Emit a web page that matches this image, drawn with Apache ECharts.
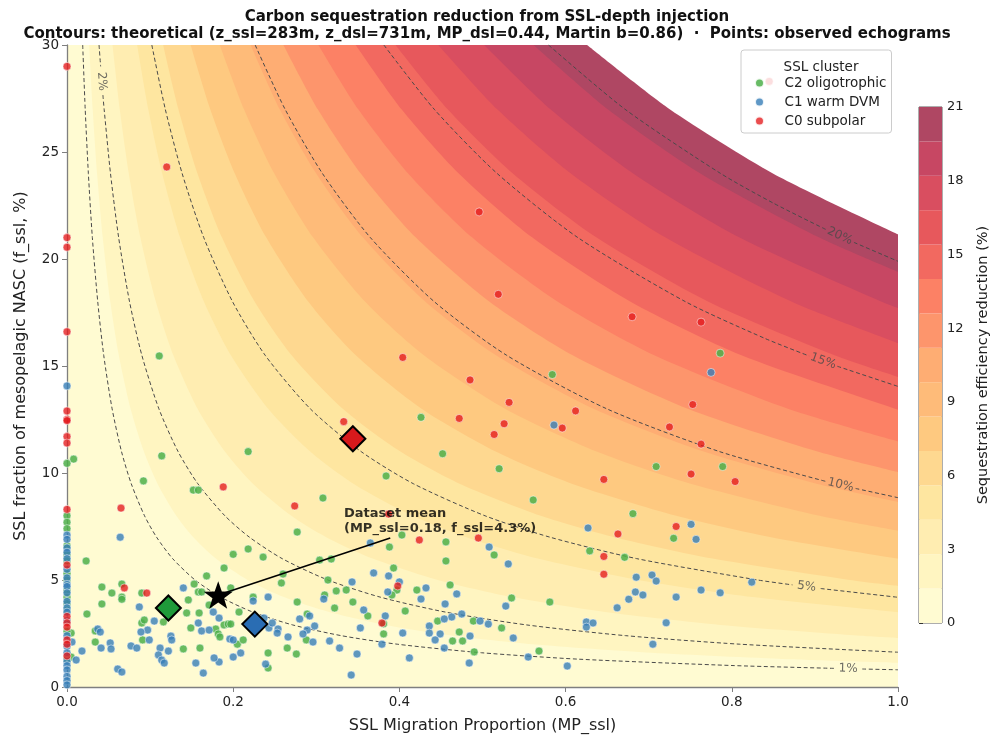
<!DOCTYPE html>
<html><head><meta charset="utf-8">
<script src="https://cdn.jsdelivr.net/npm/echarts@6.0.0/dist/echarts.min.js"></script>
<style>html,body{margin:0;padding:0;background:#fff}#c{width:992px;height:740px}</style>
</head><body><div id="c"></div><script>
// ---- filled-contour band boundaries: x positions at common y values ----
const BAND_Y = [30, 27, 24, 21, 18, 15.5, 13, 11, 9.5, 8, 7, 6, 5, 4.2, 3.5, 2.9, 2.4, 2.0, 1.6, 1.3, 1.0];
const BAND_LEVELS = [1.4, 2.8, 4.2, 5.6, 7.0, 8.4, 9.8, 11.2, 12.6, 14.0, 15.4, 16.8, 18.2, 19.6, 21.0];
const BAND_X = [
  [0.02669,0.03093,0.03622,0.04303,0.05211,0.06236,0.07655,0.09255,0.10897,0.13155,0.15198,0.17921,0.21734,0.26092,0.31539,0.38301,0.46519,0.56051,0.70350,0.86848],
  [0.05479,0.06349,0.07436,0.08834,0.10698,0.12802,0.15715,0.19000,0.22371,0.27005,0.31199,0.36790,0.44618,0.53564,0.64746,0.78628,0.95498],
  [0.08442,0.09782,0.11457,0.13610,0.16482,0.19723,0.24212,0.29272,0.34465,0.41606,0.48066,0.56681,0.68740,0.82523,0.99751],
  [0.11570,0.13406,0.15702,0.18653,0.22589,0.27032,0.33184,0.40119,0.47236,0.57023,0.65877,0.77683,0.94212],
  [0.14877,0.17239,0.20191,0.23985,0.29046,0.34759,0.42669,0.51587,0.60739,0.73323,0.84708,0.99889],
  [0.18380,0.21297,0.24944,0.29633,0.35885,0.42943,0.52716,0.63733,0.75040,0.90587],
  [0.22096,0.25603,0.29988,0.35624,0.43140,0.51625,0.63374,0.76618,0.90211],
  [0.26045,0.30179,0.35348,0.41992,0.50851,0.60852,0.74701,0.90313],
  [0.30251,0.35053,0.41055,0.48772,0.59062,0.70678,0.86764],
  [0.34738,0.40252,0.47145,0.56007,0.67823,0.81162,0.99634],
  [0.39536,0.45812,0.53657,0.63742,0.77191,0.92373],
  [0.44679,0.51771,0.60636,0.72034,0.87232],
  [0.50205,0.58174,0.68136,0.80943,0.98021],
  [0.56159,0.65073,0.76217,0.90542],
  [0.62592,0.72527,0.84946]
];
const BAND_END_Y = [1.1310, 2.2944, 3.4916, 4.7243, 5.9937, 7.3019, 8.6505, 10.0414, 11.4768, 12.9586, 14.4891, 16.0709, 17.7066, 19.3992, 21.1512];
const BAND_COLORS = ['#fffbd2','#fff5c1','#ffedb1','#fee6a0','#fed890','#fec980','#febb79','#fead73','#fd956c','#fc8165','#f26960','#e7585c','#d94e60','#c74763','#af4763'];

// ---- dashed theoretical contours (null = gap for the inline label) ----
const CONTOUR_1 = [[0.0189,30],[0.0219,27],[0.0257,24],[0.0305,21],[0.0370,18],[0.0442,15.5],[0.0543,13],[0.0656,11],[0.0773,9.5],[0.0933,8],[0.1078,7],[0.1271,6],[0.1541,5],[0.1850,4.2],[0.2236,3.5],[0.2716,2.9],[0.3299,2.4],[0.3974,2.0],[0.4988,1.6],[0.6158,1.3],[0.8030,1.0],[0.923,0.8711],null,[0.957,0.8404],[1,0.8046]];
const CONTOUR_2 = [[0.03856,30],[0.04046,29.0],null,[0.04322,27.66],[0.04468,27],[0.05233,24],[0.06216,21],[0.07528,18],[0.09008,15.5],[0.11058,13],[0.13369,11],[0.15741,9.5],[0.19003,8],[0.21953,7],[0.25888,6],[0.31396,5],[0.37690,4.2],[0.45559,3.5],[0.55327,2.9],[0.67198,2.4],[0.80968,2.0],[1,1.6255]];
const CONTOUR_5 = [[0.10208,30],[0.11828,27],[0.13854,24],[0.16458,21],[0.19930,18],[0.23850,15.5],[0.29278,13],[0.35397,11],[0.41677,9.5],[0.50311,8],[0.58124,7],[0.68540,6],[0.83123,5],[0.873,4.772],null,[0.907,4.601],[1,4.1915]];
const CONTOUR_10 = [[0.22645,30],[0.26240,27],[0.30733,24],[0.36510,21],[0.44213,18],[0.52909,15.5],[0.64950,13],[0.78524,11],[0.913,9.609],null,[0.949,9.278],[1,8.8466]];
const CONTOUR_15 = [[0.38132,30],[0.44185,27],[0.51751,24],[0.61478,21],[0.74449,18],[0.84,16.286],[0.893,15.469],null,[0.927,14.987],[1,14.0467]];
const CONTOUR_20 = [[0.57946,30],[0.67143,27],[0.78641,24],[0.85,22.611],[0.913,21.384],null,[0.947,20.776],[1,19.8935]];
const CONTOUR_LABELS = [
  {text:'2%', x:0.04187, y:28.3, rot:-85.5},
  {text:'1%', x:0.940, y:0.8555, rot:-1.3},
  {text:'5%', x:0.890, y:4.685, rot:-7.4},
  {text:'10%', x:0.931, y:9.440, rot:-13.3},
  {text:'15%', x:0.910, y:15.224, rot:-20},
  {text:'20%', x:0.930, y:21.075, rot:-24.7}
];

// ---- observed echograms ----
const C2_POINTS = [
[0.111,15.47],[0.218,11.0],[0.114,10.8],[0.008,10.65],[0,10.45],
[0.584,14.6],[0.426,12.6],[0.452,10.9],[0.52,10.2],
[0.786,15.6],[0.709,10.3],[0.789,10.3],
[0.681,8.1],[0.730,6.95],[0.671,6.06],
[0.384,9.86],[0.308,8.83],[0.561,8.74],[0.403,7.1],[0.456,6.78],[0.388,6.54],[0.514,6.17],[0.629,6.36],[0.456,5.89],[0.304,5.93],[0.318,5.98],[0.393,5.56],[0.397,4.53],[0.391,4.3],[0.314,5.0],[0.336,4.53],[0.324,4.49],[0.31,4.3],[0.344,3.97],[0.322,3.69],[0.362,3.32],[0.381,2.95],[0.381,2.48],[0.407,3.55],[0.421,4.53],[0.461,4.77],[0.446,3.08],[0.464,2.15],[0.472,2.57],[0.476,2.15],[0.49,1.64],[0.489,3.08],[0.523,2.76],[0.535,4.16],[0.581,3.97],[0.568,1.68],
[0.092,9.63],[0.152,9.2],[0.158,9.2],[0.277,7.24],[0.218,6.45],[0.2,6.2],[0.236,6.07],[0.023,5.89],[0.189,5.56],[0.168,5.19],[0.26,5.28],[0.153,4.81],[0.158,4.44],[0.162,4.44],[0.197,4.63],[0.066,4.81],[0.042,4.67],[0.054,4.39],[0.09,4.39],[0.066,4.2],[0.066,4.1],[0.042,3.88],[0.024,3.41],[0.146,4.07],[0.144,3.46],[0.159,3.46],[0.171,3.83],[0.149,2.76],[0.179,2.71],[0.182,2.48],[0.184,2.34],[0.189,2.9],[0.194,2.94],[0.197,2.94],[0.205,2.0],[0.212,2.2],[0.207,3.5],[0.224,4.2],[0.242,1.59],[0.242,0.89],[0.16,1.82],[0.14,1.78],[0.09,2.99],[0.093,3.13],[0.116,3.04],[0.091,2.2],[0.034,2.1],[0.034,2.62],[0.005,1.4],[0.005,2.52],[0.277,3.97],[0.258,4.86],[0.289,3.41],[0.288,2.2],[0.265,1.82],[0.276,1.54],
[0,8.0],[0,7.7],[0,7.4],[0,6.6],[0,6.2],[0,5.9],[0,5.3],[0,5.0],[0,4.5],[0,4.2],[0,3.9],[0,3.6],[0,2.6],[0,1.3]
];
const C1_POINTS = [
[0,14.07],[0.586,12.24],[0.775,14.7],
[0.751,7.6],[0.757,6.9],[0.685,5.13],[0.704,5.23],[0.709,4.95],[0.824,4.9],[0.684,4.44],[0.693,4.3],[0.676,4.1],[0.733,4.2],[0.763,4.53],[0.786,4.4],[0.662,3.7],[0.721,3.0],[0.705,2.0],
[0.365,6.73],[0.508,6.54],[0.627,7.43],[0.531,5.75],[0.369,5.33],[0.387,5.19],[0.4,4.91],[0.386,4.44],[0.343,4.91],[0.309,4.11],[0.357,3.6],[0.383,3.32],[0.353,2.76],[0.404,2.52],[0.316,2.15],[0.328,1.82],[0.379,2.0],[0.349,1.54],[0.342,0.56],[0.412,1.36],[0.432,4.63],[0.426,4.11],[0.469,4.35],[0.455,3.88],[0.475,3.41],[0.463,3.27],[0.454,3.18],[0.436,2.85],[0.436,2.52],[0.449,2.48],[0.443,2.2],[0.485,2.38],[0.454,1.82],[0.484,1.12],[0.497,3.08],[0.507,2.94],[0.537,2.29],[0.528,3.78],[0.555,1.40],[0.602,0.98],[0.625,3.04],[0.633,2.99],[0.625,2.8],
[0.064,7.0],[0.14,4.63],[0.087,3.74],[0.176,3.5],[0.183,3.22],[0.158,2.99],[0.162,2.62],[0.171,2.66],[0.196,2.24],[0.2,2.2],[0.209,1.59],[0.224,4.02],[0.242,4.2],[0.239,1.07],[0.2,1.40],[0.183,1.17],[0.177,1.36],[0.155,1.12],[0.164,0.65],[0.122,1.68],[0.112,1.82],[0.11,1.5],[0.114,1.26],[0.117,1.12],[0.097,2.66],[0.089,2.57],[0.105,3.08],[0.125,2.38],[0.126,2.2],[0.099,2.2],[0.077,1.92],[0.084,1.82],[0.052,2.06],[0.053,1.78],[0.041,1.82],[0.037,2.71],[0.04,2.57],[0.018,1.68],[0.011,1.26],[0.006,2.1],[0.061,0.84],[0.066,0.7],[0.292,3.32],[0.28,3.18],[0.298,2.85],[0.289,2.66],[0.284,2.48],[0.296,2.1],[0.266,2.34],[0.254,2.71],[0.253,2.52],[0.243,2.76],[0.247,2.99],[0.237,3.22],
[0,7.1],[0,6.9],[0,6.5],[0,6.3],[0,6.0],[0,5.5],[0,5.1],[0,4.8],[0,4.7],[0,4.4],[0,4.0],[0,3.7],[0,3.5],[0,3.1],[0,2.4],[0,1.9],[0,1.6],[0,1.2],[0,1.0],[0,0.8],[0,0.5],[0,0.3],[0,0.1]
];
const C0_POINTS = [
[0,29.0],[0.12,24.3],[0,21.0],[0,20.55],[0.496,22.2],[0,16.6],[0,12.9],[0,12.5],[0,12.45],[0,11.7],[0,11.4],
[0.519,18.35],[0.404,15.4],[0.485,14.35],[0.532,13.3],[0.612,12.9],[0.472,12.55],[0.526,12.3],[0.596,12.1],[0.514,11.8],[0.333,12.4],
[0.68,17.3],[0.763,17.05],[0.753,13.2],[0.725,12.15],[0.763,11.35],
[0.646,9.7],[0.751,9.95],[0.804,9.6],[0.663,7.15],[0.733,7.5],[0.646,6.1],[0.646,5.27],
[0.387,8.08],[0.424,6.87],[0.495,6.96],[0.398,4.72],[0.379,2.99],
[0.188,9.35],[0.274,8.46],[0.065,8.36],[0.069,4.63],[0.096,4.39],[0.845,28.3],
[0,8.3],[0,5.7],[0,3.3],[0,3.0],[0,2.8],[0,2.2],[0,2.0],[0,1.45]
];
const CLUSTER_NAMES = ['C2 oligotrophic', 'C1 warm DVM', 'C0 subpolar'];
const CLUSTER_MEANS = [[0.122,3.69],[0.226,2.94],[0.344,11.6]];
const DATASET_MEAN = [0.182, 4.3];
const ANNOT_END = [0.389, 6.96];
const ANNOT_TEXT_POS = [0.3333, 7.76];
const X_TICKS = {min:0, max:1, step:0.2};
const Y_TICKS = {min:0, max:30, step:5};
const CB_TICKS = {min:0, max:21, step:3};

// ---- build options ----
const FONT = 'DejaVu Sans';
const PT_COLORS = ['rgba(77,175,74,0.85)','rgba(55,126,184,0.8)','rgba(228,26,28,0.78)'];
const MEAN_COLORS = ['#1f9a3a','#2a6db3','#d7191c'];
const SMOOTH = 0.25;
const series = [];

BAND_LEVELS.forEach((lv, i) => {
  const data = BAND_X[i].map((x, j) => [x, BAND_Y[j]]);
  data.push([1, BAND_END_Y[i]]);
  series.push({type:'line', name:'band'+lv, data, symbol:'none', silent:true, clip:true,
    smooth:SMOOTH,
    lineStyle:{width:0, opacity:0},
    areaStyle:{color: i === BAND_LEVELS.length-1 ? '#ffffff' : BAND_COLORS[i+1], opacity:1, origin:'end'},
    z:1});
});

[CONTOUR_1, CONTOUR_2, CONTOUR_5, CONTOUR_10, CONTOUR_15, CONTOUR_20].forEach((c, k) => {
  let seg = [];
  const segs = [];
  c.forEach(p => { if (p === null) { segs.push(seg); seg = []; } else seg.push(p); });
  segs.push(seg);
  segs.forEach(s => series.push({type:'line', data:s, symbol:'none', silent:true, clip:true,
    smooth:SMOOTH,
    lineStyle:{color:'#4a4a4a', width:1, type:[4,2.6]}, z:2}));
});

series.push({type:'scatter', silent:true, symbolSize:0, z:2,
  data: CONTOUR_LABELS.map(l => ({value:[l.x, l.y], label:{formatter:l.text, rotate:l.rot}})),
  label:{show:true, position:'inside', fontFamily:FONT, fontSize:12, color:'#4a4a4a'}});

[C2_POINTS, C1_POINTS, C0_POINTS].forEach((pts, i) => {
  series.push({type:'scatter', name:CLUSTER_NAMES[i], data:pts, symbolSize:8, z:3,
    itemStyle:{color:PT_COLORS[i], opacity:1, borderColor:'rgba(255,255,255,0.85)', borderWidth:0.6}});
});

CLUSTER_MEANS.forEach((m, i) => {
  series.push({type:'scatter', name:'mean'+i, data:[m], symbol:'diamond', symbolSize:25, z:5,
    itemStyle:{color:MEAN_COLORS[i], opacity:1, borderColor:'#000', borderWidth:2}});
});

series.push({type:'line', data:[DATASET_MEAN, ANNOT_END], symbol:'none', silent:true, z:5,
  lineStyle:{color:'#000', width:1.6}});
series.push({type:'scatter', data:[DATASET_MEAN], z:6, symbolSize:29, symbolKeepAspect:true,
  symbol:'path://M0,-10 L2.35,-3.24 L9.51,-3.09 L3.8,1.24 L5.88,8.09 L0,4 L-5.88,8.09 L-3.8,1.24 L-9.51,-3.09 L-2.35,-3.24 Z',
  itemStyle:{color:'#000', opacity:1}});
series.push({type:'scatter', data:[ANNOT_TEXT_POS], symbolSize:0, z:7, silent:true,
  label:{show:true, position:'right', distance:0, align:'left', verticalAlign:'middle',
    formatter:'Dataset mean\n(MP_ssl=' + DATASET_MEAN[0].toFixed(2) + ', f_ssl=' + DATASET_MEAN[1].toFixed(1) + '%)',
    fontFamily:FONT, fontWeight:'bold', fontSize:13, lineHeight:15.5, color:'#000'}});

// colorbar
series.push({type:'line', xAxisIndex:1, yAxisIndex:1, data:[[0,0]], symbol:'none', silent:true,
  lineStyle:{opacity:0},
  markArea:{silent:true, data: BAND_COLORS.map((col, i) => [
    {yAxis: i === 0 ? 0 : BAND_LEVELS[i-1], itemStyle:{color:col, opacity:1}},
    {yAxis: BAND_LEVELS[i]}])}});

const axisCommon = {
  axisLine:{show:true, lineStyle:{color:'#7f7f7f', width:1.3}},
  axisTick:{show:true, length:5, lineStyle:{color:'#7f7f7f', width:1}},
  splitLine:{show:false}
};

const option = {
  animation:false,
  backgroundColor:'#fff',
  textStyle:{fontFamily:FONT},
  title:[
    {text:'Carbon sequestration reduction from SSL-depth injection\nContours: theoretical (z_ssl=283m, z_dsl=731m, MP_dsl=0.44, Martin b=0.86)  ·  Points: observed echograms',
     left:482, top:4, textAlign:'center',
     textStyle:{fontFamily:FONT, fontWeight:'bold', fontSize:15, lineHeight:16.5, color:'#111'}},
    {text:'SSL cluster', left:816, top:55, textAlign:'center', z:20,
     textStyle:{fontFamily:FONT, fontWeight:'normal', fontSize:13.5, color:'#222'}}
  ],
  legend:{data:CLUSTER_NAMES, orient:'vertical', left:741, top:50, z:10,
    icon:'circle', itemWidth:30, itemHeight:9, itemGap:5,
    padding:[26, 5, 5, 13],
    backgroundColor:'rgba(255,255,255,0.82)', borderColor:'#cccccc', borderWidth:1, borderRadius:3,
    textStyle:{fontFamily:FONT, fontSize:13.5, color:'#222', padding:[0,0,0,5]}},
  grid:[
    {left:67, right:94, top:45, bottom:53, show:true, backgroundColor:BAND_COLORS[0], borderWidth:0},
    {left:919, top:107, width:27, height:516, show:true, borderColor:'#333', borderWidth:0.8, backgroundColor:'transparent'}
  ],
  xAxis:[
    Object.assign({type:'value', gridIndex:0, min:X_TICKS.min, max:X_TICKS.max, interval:X_TICKS.step,
      name:'SSL Migration Proportion (MP_ssl)', nameLocation:'middle', nameGap:31,
      nameTextStyle:{fontFamily:FONT, fontSize:16, color:'#222'},
      axisLabel:{formatter:v => v.toFixed(1), fontFamily:FONT, fontSize:13.5, color:'#222', margin:8}}, axisCommon),
    {type:'value', gridIndex:1, min:0, max:1, show:false}
  ],
  yAxis:[
    Object.assign({type:'value', gridIndex:0, min:Y_TICKS.min, max:Y_TICKS.max, interval:Y_TICKS.step,
      name:'SSL fraction of mesopelagic NASC (f_ssl, %)', nameLocation:'middle', nameGap:38,
      nameTextStyle:{fontFamily:FONT, fontSize:16, color:'#222'},
      axisLabel:{fontFamily:FONT, fontSize:13.5, color:'#222', margin:8}}, axisCommon),
    {type:'value', gridIndex:1, min:CB_TICKS.min, max:CB_TICKS.max, interval:CB_TICKS.step, position:'right',
      name:'Sequestration efficiency reduction (%)', nameLocation:'middle', nameRotate:90, nameGap:34,
      nameTextStyle:{fontFamily:FONT, fontSize:14.5, color:'#222'},
      axisLine:{show:false}, axisTick:{show:true, length:4, lineStyle:{color:'#333'}},
      axisLabel:{fontFamily:FONT, fontSize:13, color:'#222', margin:5}, splitLine:{show:false}}
  ],
  series
};

const chart = echarts.init(document.getElementById('c'), null, {renderer:'canvas'});
chart.setOption(option);
</script></body></html>
